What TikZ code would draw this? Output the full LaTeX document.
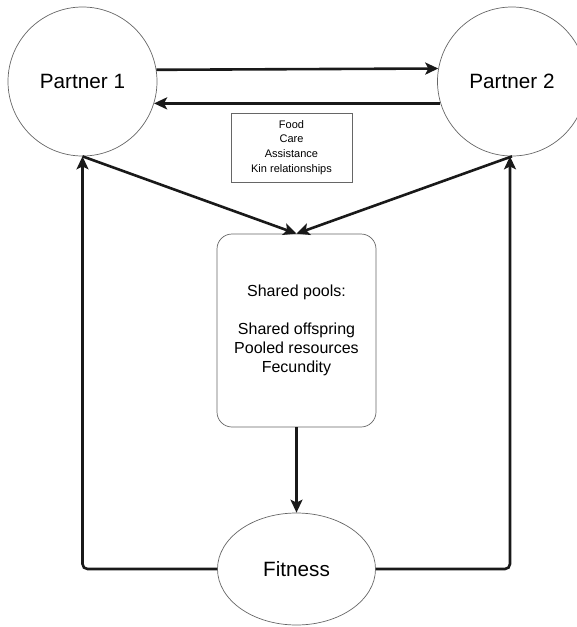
\documentclass[tikz,border=0pt]{standalone}
\usepackage{fontspec}
\setmainfont{Liberation Sans}
\usetikzlibrary{shapes,arrows,arrows.meta,positioning,calc}

\begin{document}
\begin{tikzpicture}[x=1pt, y=-1pt,
    link/.style={line width=2.6pt, draw=black!90, -{Stealth[length=13pt, width=12pt, inset=3pt]}},
    loop/.style={line width=2.6pt, draw=black!90, rounded corners=5pt, -{Stealth[length=13pt, width=12pt, inset=3pt]}}]
    \useasboundingbox (0,0) rectangle (577,627);

    % Partners
    \node[circle, draw=black!60, line width=0.7pt, minimum size=149pt, inner sep=0pt, font=\fontsize{20.7}{24}\selectfont] (p1) at (82.5,81.5) {Partner 1};
    \node[circle, draw=black!60, line width=0.7pt, minimum size=149pt, inner sep=0pt, font=\fontsize{20.7}{24}\selectfont] (p2) at (512,81.5) {Partner 2};

    % Exchanged goods
    \node[rectangle, draw=black!60, line width=0.7pt, minimum width=121pt, minimum height=69pt, align=center, font=\fontsize{11}{14.7}\selectfont] (goods) at (291.5,147.5) {Food\\Care\\Assistance\\Kin relationships};

    % Shared pools
    \node[rectangle, rounded corners=15pt, draw=black!60, line width=0.7pt, minimum width=159pt, minimum height=193pt, align=center, font=\fontsize{16}{19}\selectfont] (pool) at (296.5,330.5) {Shared pools:\\[19pt]Shared offspring\\Pooled resources\\Fecundity};

    % Fitness
    \node[ellipse, draw=black!60, line width=0.7pt, minimum width=158pt, minimum height=112pt, inner sep=0pt, font=\fontsize{20.7}{24}\selectfont] (fit) at (296.5,569) {Fitness};

    % Arrows
    \draw[link] (p1.9.66) -- (p2.170.34);
    \draw[link] (p2.197.6) -- (p1.-17.6);
    \draw[link] (p1.south) -- (pool.north);
    \draw[link] (p2.south) -- (pool.north);
    \draw[link] (pool.south) -- (fit.north);
    \draw[loop] (fit.west) -| (p1.south);
    \draw[loop] (fit.east) -| ([xshift=-2pt]p2.south);
\end{tikzpicture}
\end{document}
